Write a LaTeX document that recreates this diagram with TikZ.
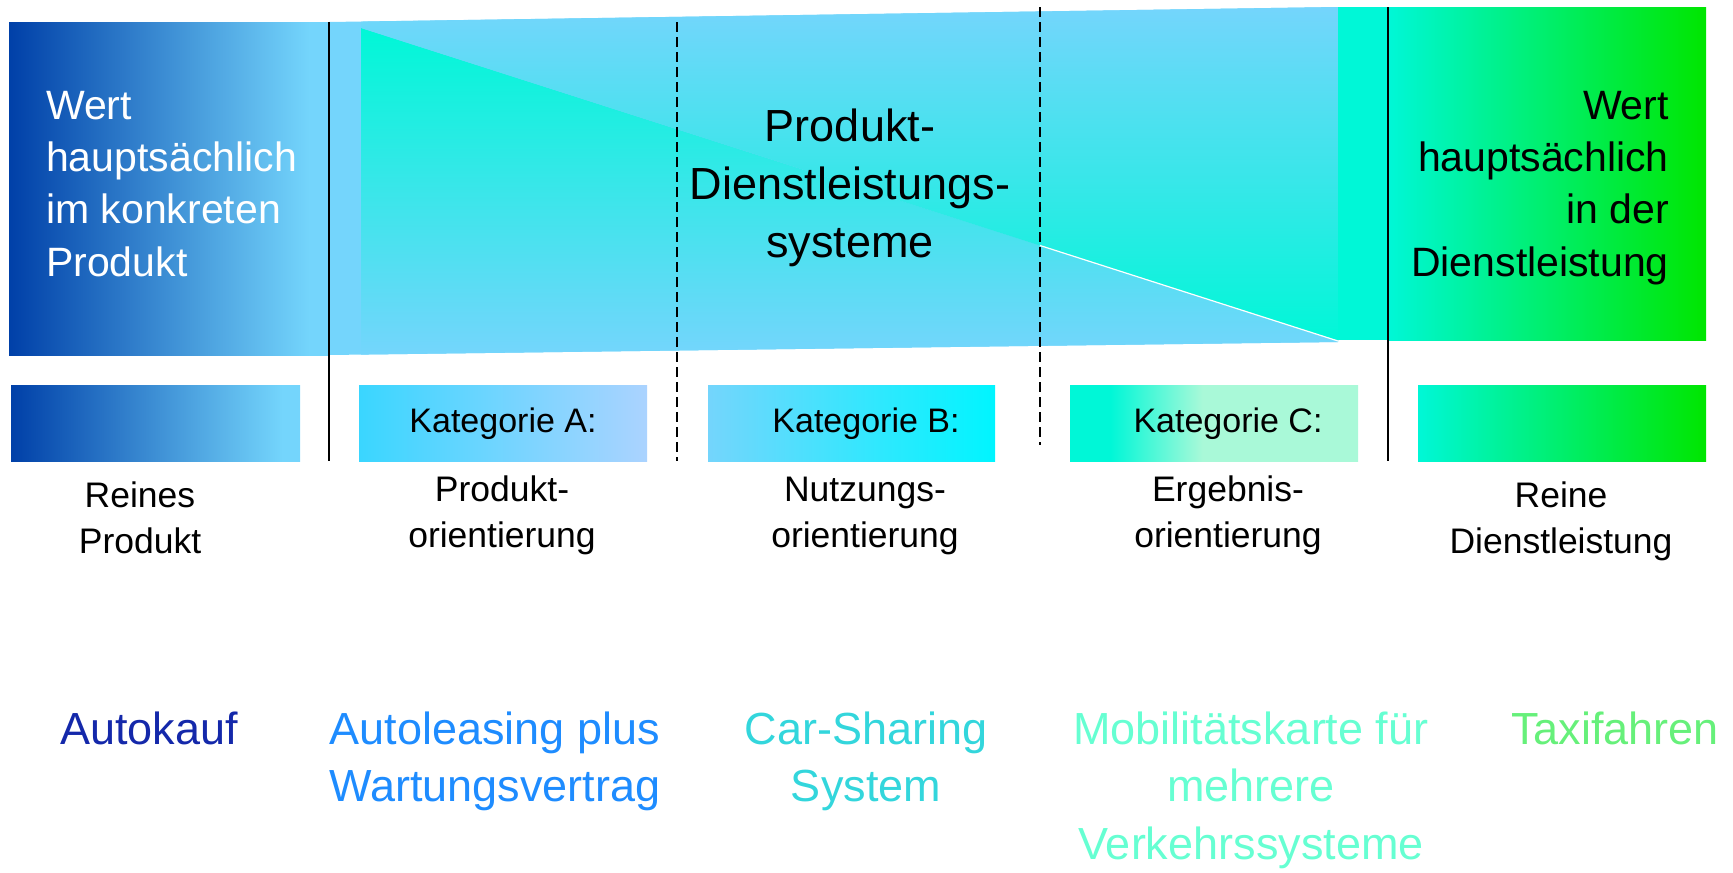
\documentclass[tikz,border=0pt]{standalone}
\usepackage{fontspec}
\setmainfont{Liberation Sans}
\begin{document}
\definecolor{skyband}{RGB}{116,213,252}
\definecolor{tealc}{RGB}{0,247,215}
\definecolor{deepblue}{RGB}{0,64,168}
\definecolor{greenend}{RGB}{0,230,0}
\definecolor{katAl}{RGB}{58,214,255}
\definecolor{katAr}{RGB}{171,211,255}
\definecolor{katBr}{RGB}{0,245,255}
\definecolor{mintc}{RGB}{169,249,216}
\definecolor{exA}{RGB}{20,40,170}
\definecolor{exB}{RGB}{30,140,255}
\definecolor{exC}{RGB}{51,214,220}
\definecolor{exD}{RGB}{102,255,210}
\definecolor{exE}{RGB}{102,240,122}
% horizontal colour ramps (path box maps to 25bp..75bp)
\pgfdeclarehorizontalshading{prodramp}{100bp}{color(0bp)=(deepblue); color(25bp)=(deepblue); color(72bp)=(skyband); color(100bp)=(skyband)}
\pgfdeclarehorizontalshading{katcramp}{100bp}{color(0bp)=(tealc); color(25bp)=(tealc); color(32bp)=(tealc); color(48bp)=(mintc); color(100bp)=(mintc)}
\begin{tikzpicture}[x=1pt,y=-1pt,
  sepline/.style={line width=2.4pt, black},
  dashline/.style={line width=1.5pt, black, dash pattern=on 10pt off 5pt},
  bigtxt/.style={inner sep=0pt, font=\fontsize{41}{52.3}\selectfont},
  midtxt/.style={inner sep=0pt, font=\fontsize{45}{58}\selectfont, align=center},
  kattxt/.style={inner sep=0pt, font=\fontsize{34}{40}\selectfont},
  cattxt/.style={inner sep=0pt, font=\fontsize{35.5}{46}\selectfont, align=center},
  extxt/.style={inner sep=0pt, font=\fontsize{45}{57.5}\selectfont, align=center}]
\useasboundingbox (0,0) rectangle (1733,873);

% upper band
\shade[shading=prodramp] (9,22) rectangle (329,355);
\fill[skyband] (329,22) -- (1338,7) -- (1338,342) -- (329,355) -- cycle;
\shade[top color=tealc, bottom color=skyband] (361,28) -- (1338,341) -- (1338,342) -- (361,354.6) -- cycle;
\shade[top color=skyband, bottom color=tealc] (361,28) -- (361,21.6) -- (1338,7) -- (1338,341) -- cycle;
\draw[white, line width=1.2pt] (1040,245.5) -- (1338,341);
\fill[tealc] (1338,7) rectangle (1388,340);
\shade[left color=tealc, right color=greenend] (1388,7) rectangle (1706,340);

% category boxes
\shade[shading=prodramp] (11,385) rectangle (300,461);
\shade[left color=katAl, right color=katAr] (359,385) rectangle (647,461);
\shade[left color=skyband, right color=katBr] (708,385) rectangle (995,461);
\shade[shading=katcramp] (1070,385) rectangle (1358,461);
\shade[left color=tealc, right color=greenend] (1418,385) rectangle (1706,461);

% separators
\draw[sepline] (329,22) -- (329,461);
\draw[dashline] (677,22) -- (677,461);
\draw[dashline] (1040,7) -- (1040,445);
\draw[sepline] (1388,7) -- (1388,461);

% texts in the band (base anchor = last line)
\node[bigtxt, text=white, anchor=base west, align=left] (wertp) at (46,276) {Wert\\hauptsächlich\\im konkreten\\Produkt};
\node[bigtxt, anchor=base east, align=right] (wertd) at (1669,276) {Wert\\hauptsächlich\\in der\\Dienstleistung};
\node[midtxt, anchor=base] (pss) at (850,257) {Produkt-\\Dienstleistungs-\\systeme};

% box labels
\node[kattxt, anchor=base] (ka) at (503,432) {Kategorie A:};
\node[kattxt, anchor=base] (kb) at (866,432) {Kategorie B:};
\node[kattxt, anchor=base] (kc) at (1228,432) {Kategorie C:};

% category names
\node[cattxt, anchor=base] (c0) at (140,553) {Reines\\Produkt};
\node[cattxt, anchor=base] (c1) at (502,547) {Produkt-\\orientierung};
\node[cattxt, anchor=base] (c2) at (865,547) {Nutzungs-\\orientierung};
\node[cattxt, anchor=base] (c3) at (1228,547) {Ergebnis-\\orientierung};
\node[cattxt, anchor=base] (c4) at (1561,553) {Reine\\Dienstleistung};

% examples
\node[extxt, text=exA, anchor=base] (e0) at (149,744) {Autokauf};
\node[extxt, text=exB, anchor=base] (e1) at (495,801.5) {Autoleasing plus\\Wartungsvertrag};
\node[extxt, text=exC, anchor=base] (e2) at (866,801.5) {Car-Sharing\\System};
\node[extxt, text=exD, anchor=base] (e3) at (1251,859) {Mobilitätskarte für\\mehrere\\Verkehrssysteme};
\node[extxt, text=exE, anchor=base] (e4) at (1615,744) {Taxifahren};
\end{tikzpicture}
\end{document}
